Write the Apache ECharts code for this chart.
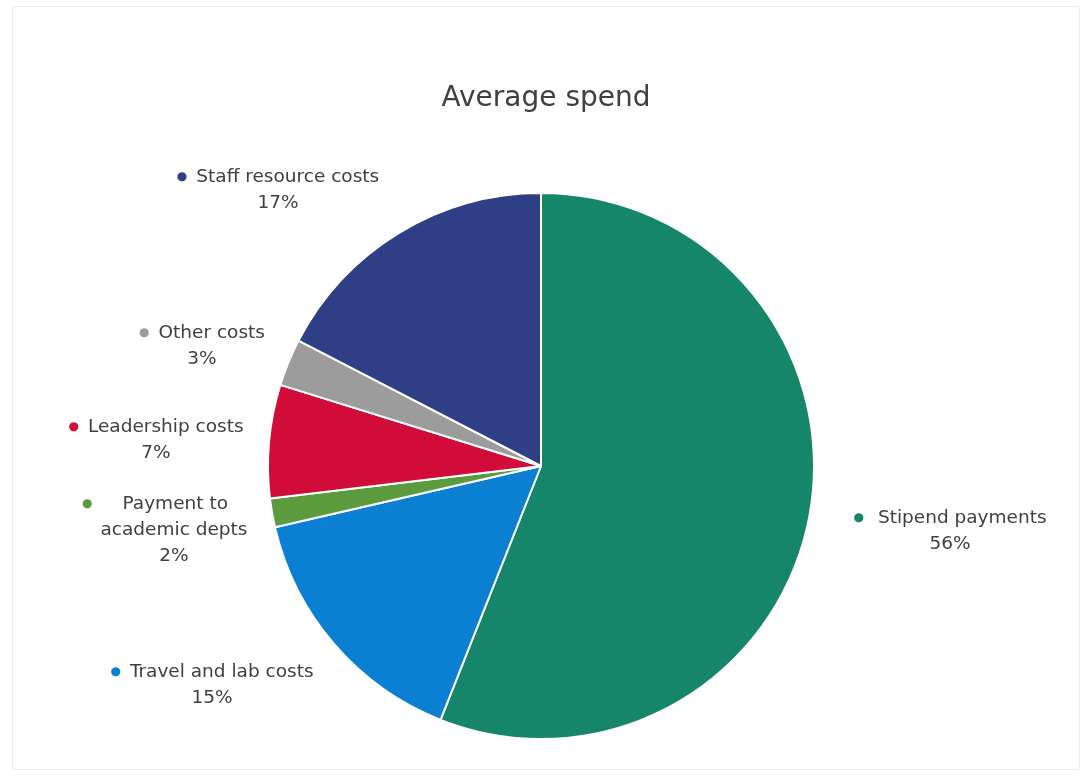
<!DOCTYPE html>
<html>
<head>
<meta charset="utf-8">
<script src="https://cdn.jsdelivr.net/npm/echarts@6/dist/echarts.min.js"></script>
<style>
html,body{margin:0;padding:0;background:#fff;}
#frame{position:absolute;left:12px;top:6px;width:1068px;height:764px;border:1px solid #ececec;box-sizing:border-box;}
#main{position:absolute;left:0;top:0;width:1092px;height:777px;}
</style>
</head>
<body>
<div id="frame"></div>
<div id="main"></div>
<script>
// ---- data ----
const title = 'Average spend';
const categories = ['Stipend payments', 'Travel and lab costs', 'Payment to academic depts', 'Leadership costs', 'Other costs', 'Staff resource costs'];
const shares = [56.0, 15.4, 1.7, 6.7, 2.8, 17.4];

// ---- styles / layout ----
const colors = ['#15866a', '#0b7fd2', '#5b9a3d', '#d10c38', '#9c9c9c', '#2f3f86'];
const labelNames = ['Stipend payments', 'Travel and lab costs', 'Payment to\nacademic depts', 'Leadership costs', 'Other costs', 'Staff resource costs'];
const labelCenters = [[950, 531], [212, 685], [174, 530], [156, 440], [202, 346], [278, 190]];
const dotGaps = [14, 9, 30, 9, 9, 9];
const FONT = 'DejaVu Sans';

const rich = {
  name: {fontSize: 18.5, color: '#404040', fontFamily: FONT, lineHeight: 26, align: 'center'},
  pct: {fontSize: 18.5, color: '#404040', fontFamily: FONT, lineHeight: 26, align: 'center'}
};
colors.forEach((c, i) => {
  rich['dot' + i] = {fontSize: 12, color: c, lineHeight: 26, padding: [0, dotGaps[i], 0, 0], fontFamily: FONT};
});
// first line of a multi-line label: balance the dot so the text itself stays centred
rich.nameBal = {fontSize: 18.5, color: '#404040', fontFamily: FONT, lineHeight: 26, padding: [0, 38, 0, 0]};

const data = categories.map((c, i) => ({
  name: c,
  value: shares[i],
  itemStyle: {color: colors[i]}
}));

const chart = echarts.init(document.getElementById('main'), null, {renderer: 'canvas'});
chart.setOption({
  backgroundColor: 'transparent',
  animation: false,
  title: {
    text: title,
    left: 'center',
    top: 80,
    textStyle: {fontSize: 28, fontWeight: 'normal', color: '#404040', fontFamily: FONT}
  },
  series: [{
    type: 'pie',
    center: [541, 466],
    radius: 273,
    startAngle: 90,
    clockwise: true,
    itemStyle: {borderColor: '#fff', borderWidth: 2},
    label: {
      show: true,
      position: 'outside',
      formatter: p => {
        const i = p.dataIndex;
        const lines = labelNames[i].split('\n');
        const firstStyle = lines.length > 1 ? 'nameBal' : 'name';
        let s = '{dot' + i + '|●}{' + firstStyle + '|' + lines[0] + '}';
        for (let k = 1; k < lines.length; k++) s += '\n{name|' + lines[k] + '}';
        s += '\n{pct|' + Math.round(p.value) + '%}';
        return s;
      },
      rich: rich,
      align: 'center'
    },
    labelLine: {show: false},
    labelLayout: p => ({
      x: labelCenters[p.dataIndex][0],
      y: labelCenters[p.dataIndex][1],
      align: 'center',
      verticalAlign: 'middle'
    }),
    data: data
  }]
});
</script>
</body>
</html>
